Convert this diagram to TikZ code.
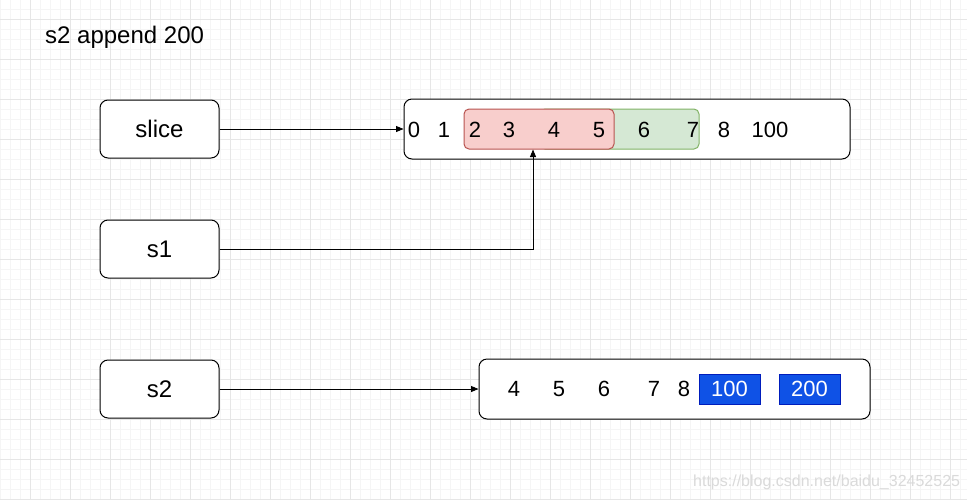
\documentclass[tikz,border=0pt]{standalone}
\usepackage{fontspec}
\setmainfont{Liberation Sans}
\usetikzlibrary{arrows.meta}
\definecolor{redF}{HTML}{F8CECC}
\definecolor{redS}{HTML}{B85450}
\definecolor{greenF}{HTML}{D5E8D4}
\definecolor{greenS}{HTML}{82B366}
\definecolor{blueF}{HTML}{0F52E6}
\definecolor{blueS}{HTML}{001DBC}
\definecolor{gridMinor}{HTML}{F5F5F5}
\definecolor{gridMajor}{HTML}{E6E6E6}
\definecolor{wmGray}{HTML}{DADADA}
\begin{document}
\begin{tikzpicture}[x=1pt,y=-1pt,
  box/.style={draw=black,line width=1pt,rounded corners=8pt,fill=white,inner sep=0pt},
  lbl/.style={font=\fontsize{24}{28}\selectfont},
  dig/.style={font=\fontsize{22}{26}\selectfont,inner sep=0pt},
  conn/.style={line width=0.9pt,-{Triangle[length=7.5pt,width=6pt]}},
  hilite/.style={line width=1pt,rounded corners=5pt,inner sep=0pt,minimum height=40pt},
  blk/.style={fill=blueF,draw=blueS,line width=1pt,text=white,font=\fontsize{22}{26}\selectfont,minimum width=61pt,minimum height=30pt,inner sep=0pt},
  gminor/.style={draw=gridMinor,line width=0.75pt},
  gmajor/.style={draw=gridMajor,line width=0.75pt}]
\fill[white] (0,0) rectangle (967,499);
\useasboundingbox (0,0) rectangle (967,499);
% grid
\foreach \x in {0,10,...,960} \draw[gminor] (\x,0) -- (\x,499);
\foreach \y in {9,19,...,499} \draw[gminor] (0,\y) -- (967,\y);
\foreach \x in {30,70,...,950} \draw[gmajor] (\x,0) -- (\x,499);
\foreach \y in {19,59,...,499} \draw[gmajor] (0,\y) -- (967,\y);

% title
\node[lbl,anchor=base west,inner sep=0pt] (title) at (45,43) {s2 append 200};

% left boxes
\node[box,lbl,minimum width=119pt,minimum height=58pt] (slice) at (159.5,129) {slice};
\node[box,lbl,minimum width=119pt,minimum height=58pt] (s1) at (159.5,249) {s1};
\node[box,lbl,minimum width=119pt,minimum height=58pt] (s2) at (159.5,389) {s2};

% top array
\node[box,minimum width=446pt,minimum height=60pt] (arr) at (627,129) {};
\node[hilite,draw=greenS,fill=greenF,minimum width=159pt] (green) at (619.5,129) {};
\node[hilite,draw=redS,fill=redF,minimum width=150pt] (red) at (539,129) {};
\node[dig] (t0) at (414,130) {0};
\node[dig] (t1) at (444,130) {1};
\node[dig] (t2) at (475,130) {2};
\node[dig] (t3) at (509,130) {3};
\node[dig] (t4) at (554,130) {4};
\node[dig] (t5) at (599,130) {5};
\node[dig] (t6) at (644,130) {6};
\node[dig] (t7) at (693,130) {7};
\node[dig] (t8) at (724,130) {8};
\node[dig] (t100) at (770,130) {100};

% bottom array
\node[box,minimum width=391pt,minimum height=60pt] (arr2) at (674.5,389) {};
\node[dig] (b4) at (514,389) {4};
\node[dig] (b5) at (559,389) {5};
\node[dig] (b6) at (604,389) {6};
\node[dig] (b7) at (654,389) {7};
\node[dig] (b8) at (684,389) {8};
\node[blk] (b100) at (729.5,389) {100};
\node[blk] (b200) at (809.5,389) {200};

% connectors
\coordinate (s1tip) at (533,149.5);
\draw[conn] (slice.east) -- (arr.west);
\draw[conn] (s1.east) -| (s1tip);
\draw[conn] (s2.east) -- (arr2.west);

% watermark
\node[font=\fontsize{16}{18}\selectfont,text=wmGray,anchor=base west,inner sep=0pt] (wm) at (693,486) {https://blog.csdn.net/baidu\_32452525};
\end{tikzpicture}
\end{document}
